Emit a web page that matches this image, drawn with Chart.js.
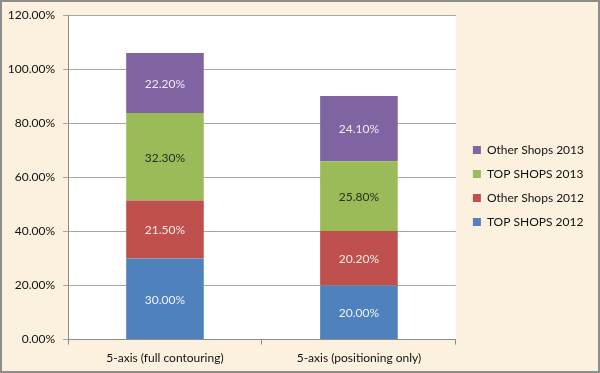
<!DOCTYPE html>
<html lang="en">
<head>
    <meta charset="UTF-8">
    <title>5-axis shops chart</title>
    <script src="https://cdn.jsdelivr.net/npm/chart.js"></script>
    <style>
        body {
            margin: 0;
            background: #fff;
        }
        #wrap {
            width: 600px;
            height: 373px;
            position: relative;
        }
    </style>
</head>
<body>
    <div id="wrap">
        <canvas id="chart" width="600" height="373"></canvas>
    </div>
    <script>
        // chart values (percent)
        const categories = ['5-axis (full contouring)', '5-axis (positioning only)'];
        const topShops2012 = [30.0, 20.0];
        const otherShops2012 = [21.5, 20.2];
        const topShops2013 = [32.3, 25.8];
        const otherShops2013 = [22.2, 24.1];
        const yTicks = [0, 20, 40, 60, 80, 100, 120];

        const FONT = 'Lato, "Open Sans", sans-serif';

        // beige page, white plot area, gray frame
        const backdrop = {
            id: 'backdrop',
            afterLayout(chart) {
                // nudge the legend away from the plot, like the original
                const lg = chart.legend;
                lg.left += 5;
                lg.right += 5;
                lg.top -= 4;
                lg.bottom -= 4;
            },
            beforeDraw(chart) {
                const ctx = chart.ctx;
                const a = chart.chartArea;
                ctx.save();
                ctx.fillStyle = '#fbf1de';
                ctx.fillRect(0, 0, chart.width, chart.height);
                ctx.fillStyle = '#ffffff';
                ctx.fillRect(a.left, a.top, a.right - a.left, a.bottom - a.top);
                ctx.strokeStyle = '#8c8c8c';
                ctx.lineWidth = 2;
                ctx.strokeRect(1, 1, chart.width - 2, chart.height - 2);
                ctx.restore();
            }
        };

        // value labels in the middle of each segment
        const valueLabels = {
            id: 'valueLabels',
            afterDatasetsDraw(chart) {
                const ctx = chart.ctx;
                ctx.save();
                ctx.font = '12px ' + FONT;
                ctx.textAlign = 'center';
                ctx.textBaseline = 'middle';
                chart.data.datasets.forEach((ds, i) => {
                    chart.getDatasetMeta(i).data.forEach((bar, j) => {
                        const p = bar.getProps(['x', 'y', 'base'], true);
                        ctx.fillStyle = ds.labelColor;
                        ctx.fillText(ds.data[j].toFixed(2) + '%', p.x, (p.y + p.base) / 2 + 1);
                    });
                });
                ctx.restore();
            }
        };

        new Chart(document.getElementById('chart'), {
            type: 'bar',
            data: {
                labels: categories,
                datasets: [
                    { label: 'TOP SHOPS 2012', data: topShops2012, backgroundColor: '#4f81bd', labelColor: '#eef3fa' },
                    { label: 'Other Shops 2012', data: otherShops2012, backgroundColor: '#c0504d', labelColor: '#f7e9e9' },
                    { label: 'TOP SHOPS 2013', data: topShops2013, backgroundColor: '#9bbb59', labelColor: '#26301a' },
                    { label: 'Other Shops 2013', data: otherShops2013, backgroundColor: '#8064a2', labelColor: '#efeaf5' }
                ]
            },
            options: {
                responsive: false,
                animation: false,
                layout: {
                    padding: { left: 0, top: 9, right: 11, bottom: 2 }
                },
                datasets: {
                    bar: { barPercentage: 0.8, categoryPercentage: 0.5, borderWidth: 0 }
                },
                scales: {
                    x: {
                        stacked: true,
                        grid: {
                            offset: true,
                            drawOnChartArea: false,
                            color: '#8c8c8c',
                            tickLength: 5
                        },
                        border: { color: '#8c8c8c' },
                        ticks: {
                            color: '#111',
                            font: { family: FONT, size: 12 },
                            padding: 6
                        }
                    },
                    y: {
                        stacked: true,
                        min: 0,
                        max: 120,
                        afterBuildTicks(axis) {
                            axis.ticks = yTicks.map(v => ({ value: v }));
                        },
                        afterFit(axis) {
                            axis.width = 68;
                        },
                        grid: { color: '#a6a6a6', tickLength: 5 },
                        border: { color: '#8c8c8c' },
                        ticks: {
                            color: '#111',
                            font: { family: FONT, size: 12 },
                            padding: 8,
                            callback: v => v.toFixed(2) + '%'
                        }
                    }
                },
                plugins: {
                    legend: {
                        position: 'right',
                        reverse: true,
                        labels: {
                            boxWidth: 8,
                            boxHeight: 8,
                            padding: 12,
                            color: '#111',
                            font: { family: FONT, size: 12 }
                        }
                    },
                    tooltip: { enabled: false }
                }
            },
            plugins: [backdrop, valueLabels]
        });
    </script>
</body>
</html>
